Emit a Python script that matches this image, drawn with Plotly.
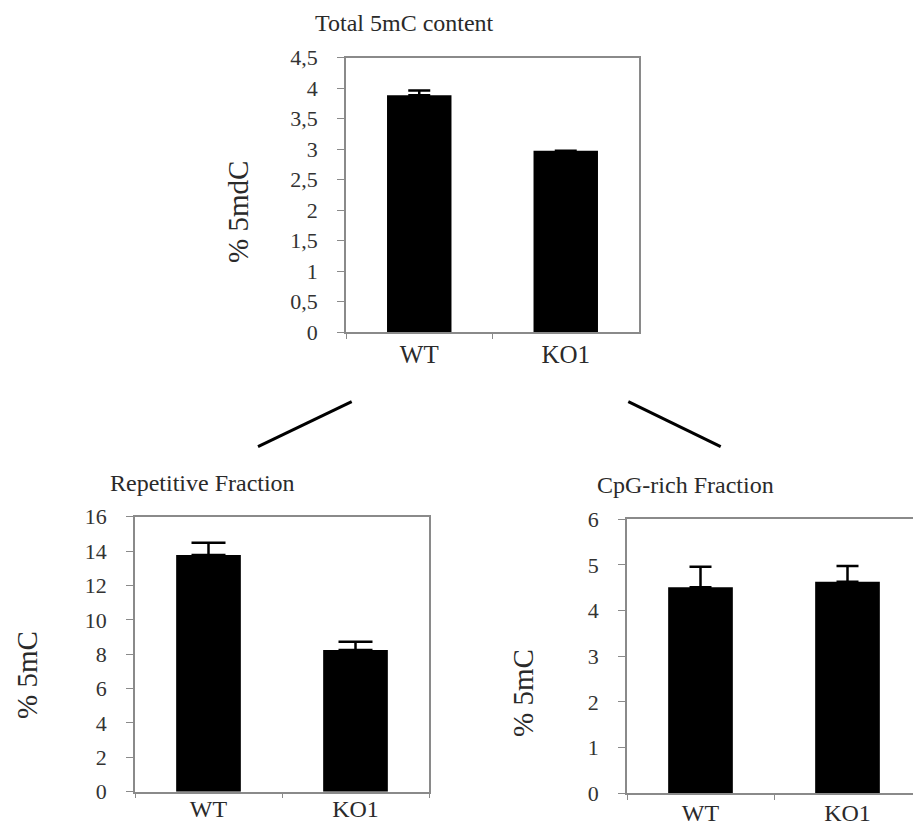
import plotly.graph_objects as go

categories = ["WT", "KO1"]

total_values = [3.88, 2.97]
total_errors = [0.08, None]

rep_values = [13.77, 8.24]
rep_errors = [0.72, 0.49]

cpg_values = [4.51, 4.63]
cpg_errors = [0.45, 0.35]

W, H = 913, 826
FONT = "Liberation Serif"
AXCOL = "#8a8a8a"
TXT = "#2a2a2a"


def px(x):
    return x / W


def py(y):
    return 1 - y / H


fig = go.Figure()


def add_bar(vals, errs, xa, ya, cap):
    fig.add_trace(go.Bar(
        x=categories, y=vals, xaxis=xa, yaxis=ya, width=0.44,
        marker=dict(color="black", line=dict(color="black", width=0)),
        error_y=dict(type="data", array=errs, arrayminus=[0] * len(errs),
                     symmetric=False, color="black", thickness=2.5, width=cap),
        showlegend=False, hoverinfo="x+y",
    ))


add_bar(total_values, total_errors, "x", "y", 11)
add_bar(rep_values, rep_errors, "x2", "y2", 17)
add_bar(cpg_values, cpg_errors, "x3", "y3", 11)


def xaxis(domain, anchor, rng, mirror=True, size=25, standoff=0):
    return dict(domain=domain, anchor=anchor, type="category", range=rng,
                showline=True, linecolor=AXCOL, linewidth=1.5, mirror=mirror,
                ticks="outside", tickson="boundaries", ticklen=5, tickcolor=AXCOL,
                ticklabelstandoff=standoff,
                tickfont=dict(family=FONT, size=size, color=TXT),
                showgrid=False, zeroline=False, fixedrange=True)


def yaxis(domain, anchor, rng, dtick, mirror=True):
    return dict(domain=domain, anchor=anchor, range=rng, dtick=dtick, tick0=0,
                showline=True, linecolor=AXCOL, linewidth=1.5, mirror=mirror,
                ticks="outside", ticklen=7, tickcolor=AXCOL,
                ticklabelstandoff=15,
                tickfont=dict(family=FONT, size=22, color="#333333"),
                showgrid=False, zeroline=False, fixedrange=True)


fig.update_layout(
    width=W, height=H, margin=dict(l=0, r=0, t=0, b=0, autoexpand=False),
    font=dict(family=FONT, color=TXT),
    paper_bgcolor="white", plot_bgcolor="white",
    separators=", ",
    xaxis=xaxis([px(346), px(639)], "y", [-0.5, 1.5], standoff=-1),
    yaxis=yaxis([py(332), py(57.5)], "x", [0, 4.5], 0.5),
    xaxis2=xaxis([px(135), px(429)], "y2", [-0.5, 1.5], size=24, standoff=-5),
    yaxis2=yaxis([py(791.7), py(516.7)], "x2", [0, 16], 2),
    xaxis3=xaxis([px(627), 1.0], "y3", [-0.5, -0.5 + 286 / 147], mirror=True,
                 size=24, standoff=-3),
    yaxis3=yaxis([py(793.3), py(519.3)], "x3", [0, 6], 1, mirror=False),
)

titles = [
    ("Total 5mC content", 313, 23, 24),
    ("Repetitive Fraction", 108, 483, 24),
    ("CpG-rich Fraction", 595, 485, 24),
]
for text, x, y, s in titles:
    fig.add_annotation(text=text, x=px(x), y=py(y), xref="paper", yref="paper",
                       xanchor="left", yanchor="middle", showarrow=False,
                       font=dict(family=FONT, size=s, color=TXT))

ytitles = [
    ("% 5mdC", 238, 212),
    ("% 5mC", 27, 675),
    ("% 5mC", 523, 693),
]
for text, x, y in ytitles:
    fig.add_annotation(text=text, x=px(x), y=py(y), xref="paper", yref="paper",
                       xanchor="center", yanchor="middle", showarrow=False,
                       textangle=-90,
                       font=dict(family=FONT, size=29, color=TXT))

for x0, y0, x1, y1 in [(258, 446.7, 351.7, 401.7), (628.3, 401.7, 720.7, 446.7)]:
    fig.add_shape(type="line", xref="paper", yref="paper",
                  x0=px(x0), y0=py(y0), x1=px(x1), y1=py(y1),
                  line=dict(color="black", width=3))

fig.write_html("out.html", config={"displayModeBar": False},
               post_script="document.body.style.margin='0';")
